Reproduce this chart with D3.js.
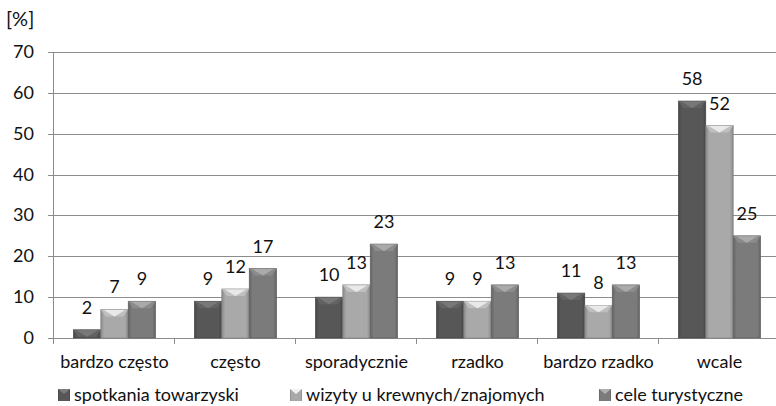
<!DOCTYPE html>
<html>
<head>
<meta charset="utf-8">
<script src="https://cdn.jsdelivr.net/npm/d3@7"></script>
<style>
  body { margin: 0; background: #fff; }
  text { font-family: Lato, "Open Sans", sans-serif; fill: #111; }
</style>
</head>
<body>
<svg id="chart" width="776" height="406"></svg>
<script>
const categories = ["bardzo często", "często", "sporadycznie", "rzadko", "bardzo rzadko", "wcale"];
const seriesNames = ["spotkania towarzyski", "wizyty u krewnych/znajomych", "cele turystyczne"];
const spotkania = [2, 9, 10, 9, 11, 58];
const wizyty = [7, 12, 13, 9, 8, 52];
const turystyczne = [9, 17, 23, 13, 13, 25];
const yTicks = [0, 10, 20, 30, 40, 50, 60, 70];

const seriesValues = [spotkania, wizyty, turystyczne];
const baseColors = ["#575757", "#a9a9a9", "#7b7b7b"];

const svg = d3.select("#chart");
const margin = { left: 54, top: 52, bottom: 68 };
const catW = 121;
const innerHeight = 406 - margin.top - margin.bottom;

const x = d3.scaleBand()
  .domain(categories)
  .range([margin.left, margin.left + catW * categories.length])
  .paddingInner(0.32)
  .paddingOuter(0.16);

const xs = d3.scaleBand()
  .domain(seriesNames)
  .range([0, x.bandwidth()]);

const y = d3.scaleLinear()
  .domain([0, 70])
  .range([margin.top + innerHeight, margin.top]);

// gradients for the bevelled look
const defs = svg.append("defs");
baseColors.forEach((c, i) => {
  const g = defs.append("linearGradient").attr("id", "grad" + i)
    .attr("x1", 0).attr("x2", 1).attr("y1", 0).attr("y2", 0);
  const base = d3.color(c);
  g.append("stop").attr("offset", 0).attr("stop-color", base.darker(0.6));
  g.append("stop").attr("offset", 0.12).attr("stop-color", base);
  g.append("stop").attr("offset", 0.88).attr("stop-color", base);
  g.append("stop").attr("offset", 1).attr("stop-color", base.darker(0.6));
});

// grid lines
svg.append("g")
  .selectAll("line")
  .data(yTicks)
  .join("line")
  .attr("x1", margin.left - 6)
  .attr("x2", 776)
  .attr("y1", d => Math.round(y(d)) + 0.5)
  .attr("y2", d => Math.round(y(d)) + 0.5)
  .attr("stroke", "#8c8c8c")
  .attr("stroke-width", 1);

// y axis line
svg.append("line")
  .attr("x1", margin.left - 0.5).attr("x2", margin.left - 0.5)
  .attr("y1", y(70)).attr("y2", y(0) + 6)
  .attr("stroke", "#8c8c8c");

// category ticks
svg.append("g")
  .selectAll("line")
  .data(d3.range(1, categories.length))
  .join("line")
  .attr("x1", i => Math.round(margin.left + catW * i) - 0.5)
  .attr("x2", i => Math.round(margin.left + catW * i) - 0.5)
  .attr("y1", y(0))
  .attr("y2", y(0) + 6)
  .attr("stroke", "#8c8c8c");

// y tick labels
svg.append("g")
  .selectAll("text")
  .data(yTicks)
  .join("text")
  .attr("x", 34)
  .attr("y", d => y(d) + 6)
  .attr("text-anchor", "end")
  .attr("font-size", 18)
  .text(d => d);

svg.append("text")
  .attr("x", 6).attr("y", 26)
  .attr("font-size", 20)
  .text("[%]");

// bars
const groups = svg.append("g")
  .selectAll("g")
  .data(categories)
  .join("g")
  .attr("transform", d => `translate(${x(d)},0)`);

groups.each(function (cat, ci) {
  const grp = d3.select(this);
  seriesNames.forEach((s, si) => {
    const v = seriesValues[si][ci];
    const bx = xs(s), bw = xs.bandwidth();
    const top = y(v), h = y(0) - top;
    grp.append("rect")
      .attr("x", bx).attr("y", top)
      .attr("width", bw).attr("height", h)
      .attr("fill", `url(#grad${si})`)
      .attr("stroke", d3.color(baseColors[si]).darker(0.8))
      .attr("stroke-width", 0.6);
    const bev = Math.min(7, h);
    grp.append("path")
      .attr("d", `M${bx},${top}L${bx + bw},${top}L${bx + bw - 5},${top + bev}L${bx + 5},${top + bev}Z`)
      .attr("fill", d3.color(baseColors[si]).brighter(0.35));
    grp.append("path")
      .attr("d", `M${bx + 3},${top + 0.5}L${bx + bw - 3},${top + 0.5}L${bx + bw / 2},${top + bev}Z`)
      .attr("fill", d3.color(baseColors[si]).brighter(0.9));
    grp.append("text")
      .attr("x", bx + bw / 2)
      .attr("y", top - 16)
      .attr("text-anchor", "middle")
      .attr("font-size", 18)
      .text(v);
  });
});

// category labels
svg.append("g")
  .selectAll("text")
  .data(categories)
  .join("text")
  .attr("x", d => x(d) + x.bandwidth() / 2)
  .attr("y", 368)
  .attr("text-anchor", "middle")
  .attr("font-size", 18)
  .text(d => d);

// legend
const legendX = [58, 290, 599];
const legend = svg.append("g")
  .selectAll("g")
  .data(seriesNames)
  .join("g")
  .attr("transform", (d, i) => `translate(${legendX[i]},389)`);
legend.append("rect")
  .attr("width", 12).attr("height", 12)
  .attr("fill", (d, i) => `url(#grad${i})`);
legend.append("path")
  .attr("d", "M0,0L12,0L6,5Z")
  .attr("fill", (d, i) => d3.color(baseColors[i]).brighter(1));
legend.append("text")
  .attr("x", 16).attr("y", 12)
  .attr("font-size", 18)
  .text(d => d);
</script>
</body>
</html>
